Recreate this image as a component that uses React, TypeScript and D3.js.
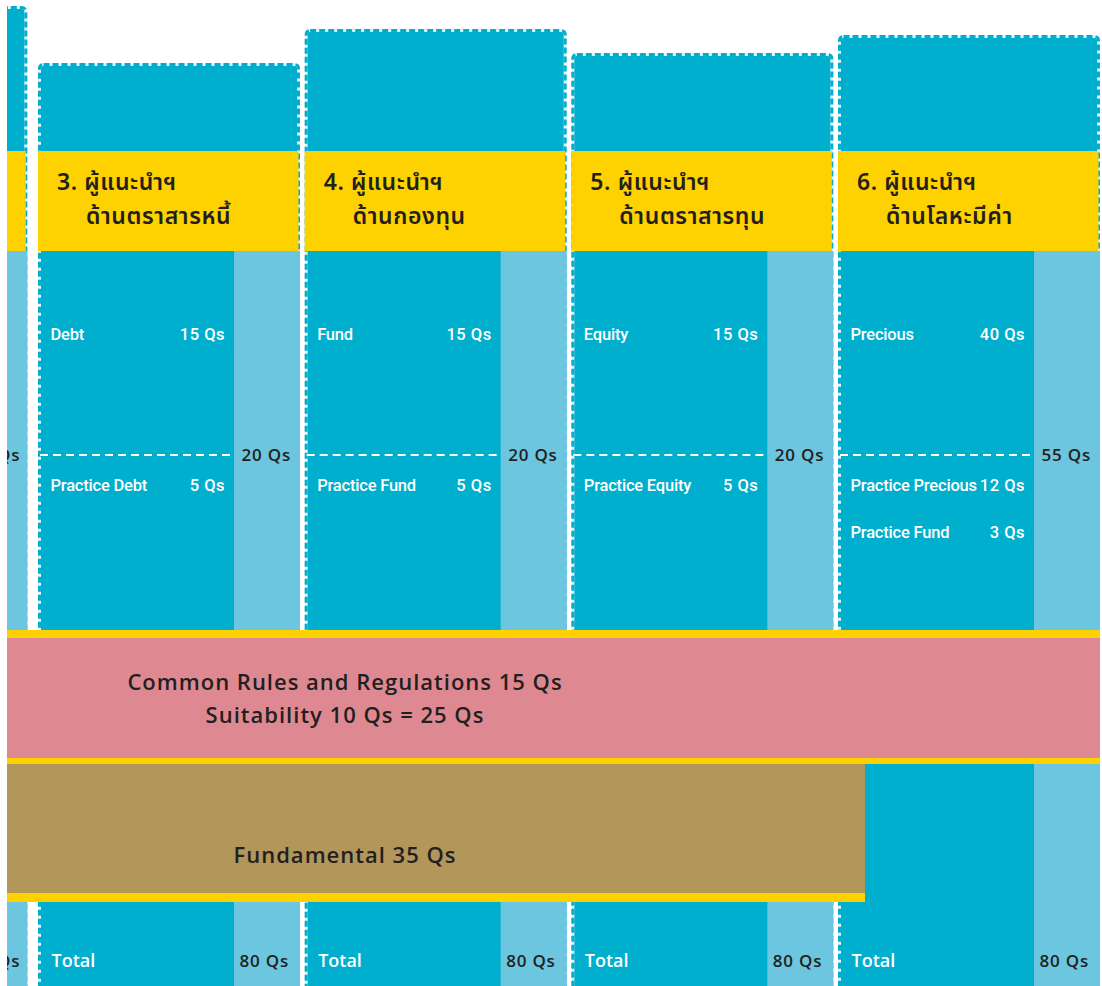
import * as d3 from "d3";

// columns of the exam structure (col "2" is only a sliver at the left edge)
const columns = ["2", "3", "4", "5", "6"];
const capHeights = [145, 88, 122, 98, 116];
const headerLine1 = ["", "3. ผู้แนะนำฯ", "4. ผู้แนะนำฯ", "5. ผู้แนะนำฯ", "6. ผู้แนะนำฯ"];
const headerLine2 = ["", "ด้านตราสารหนี้", "ด้านกองทุน", "ด้านตราสารทุน", "ด้านโลหะมีค่า"];
const mainTopic = ["", "Debt", "Fund", "Equity", "Precious"];
const mainQs = ["", "15 Qs", "15 Qs", "15 Qs", "40 Qs"];
const practiceTopic = [[], ["Practice Debt"], ["Practice Fund"], ["Practice Equity"], ["Practice Precious", "Practice Fund"]];
const practiceQs = [[], ["5 Qs"], ["5 Qs"], ["5 Qs"], ["12 Qs", "3 Qs"]];
const subtotalQs = ["20 Qs", "20 Qs", "20 Qs", "20 Qs", "55 Qs"];
const totalQs = ["80 Qs", "80 Qs", "80 Qs", "80 Qs", "80 Qs"];

const commonLines = ["Common Rules and Regulations 15 Qs", "Suitability 10 Qs = 25 Qs"];
const fundamentalLabel = "Fundamental 35 Qs";

const W = 1102;
const H = 986;
const BLUE = "#00aecd";
const LIGHT = "#6cc6df";
const YELLOW = "#fed100";
const PINK = "#de8992";
const BROWN = "#b39659";
const INK = "#231f20";

const HEAD_TOP = 151;
const HEAD_BOTTOM = 251;
const COL_W = 262;
const STRIP_W = 66;

const thai = "'Noto Sans Thai', 'Noto Sans', 'Open Sans', sans-serif";
const sans = "'Open Sans', 'Noto Sans', sans-serif";
const narrow = "Roboto, 'Noto Sans', sans-serif";

export default function App() {
  const x = d3.scaleLinear().domain([3, 6]).range([38, 838]);
  const capY = d3.scaleLinear().domain([0, 145]).range([HEAD_TOP, 6]);

  const cols = columns.map((c, i) => {
    const left = x(+c);
    const w = i === 0 ? 256 : COL_W;
    return { i, left, w };
  });

  return (
    <svg
      width={W}
      height={H}
      style={{ position: "absolute", left: 0, top: 0, background: "#fff" }}
    >
      <defs>
        <clipPath id="frame">
          <rect x={7} y={0} width={1093} height={H} />
        </clipPath>
      </defs>
      <g clipPath="url(#frame)">
        {cols.map(({ i, left, w }) => {
          const top = capY(capHeights[i]);
          const nudge = i === 0 ? 2 : 0; // sliver column shows a bit more of its labels
          return (
            <g key={"col" + i}>
              <rect x={left + 1.5} y={top + 1.5} width={w - 3} height={H} rx={4} fill={BLUE} stroke="#e6f6fa" strokeWidth={3} />
              <rect x={left + 1.5} y={top + 1.5} width={w - 3} height={H} rx={4} fill="none" stroke={BLUE} strokeWidth={3} strokeDasharray="6 3" />
              <rect x={left} y={HEAD_TOP} width={w - 1.5} height={HEAD_BOTTOM - HEAD_TOP} fill={YELLOW} />
              <rect x={left + w - STRIP_W} y={HEAD_BOTTOM} width={STRIP_W} height={H - HEAD_BOTTOM} fill={LIGHT} />
              <line x1={left + 2} x2={left + w - STRIP_W} y1={455} y2={455} stroke="#fff" strokeWidth={2} strokeDasharray="8 5" />
              <text fontFamily={thai} fontSize={23} fontWeight={600} letterSpacing={0.6} fill={INK}>
                <tspan x={left + 19} y={190}>{headerLine1[i]}</tspan>
                <tspan x={left + 48} y={224}>{headerLine2[i]}</tspan>
              </text>
              <text x={left + 12.5} y={340} fontFamily={narrow} fontSize={16.5} fontWeight={500} letterSpacing={-0.2} fill="#fff">{mainTopic[i]}</text>
              <text x={left + 187} y={340} textAnchor="end" fontFamily={narrow} fontSize={16.5} fontWeight={500} letterSpacing={0.5} fill="#fff">{mainQs[i]}</text>
              {practiceTopic[i].map((p, k) => (
                <g key={"p" + k}>
                  <text x={left + 12.5} y={491 + k * 47} fontFamily={narrow} fontSize={16.5} fontWeight={500} letterSpacing={-0.2} fill="#fff">{p}</text>
                  <text x={left + 187} y={491 + k * 47} textAnchor="end" fontFamily={narrow} fontSize={16.5} fontWeight={500} letterSpacing={0.5} fill="#fff">{practiceQs[i][k]}</text>
                </g>
              ))}
              <text x={left + w - 9 + nudge} y={461} textAnchor="end" fontFamily={sans} fontSize={17} fontWeight={600} letterSpacing={0.8} fill={INK}>{subtotalQs[i]}</text>
              <text x={left + 13.5} y={967} fontFamily={sans} fontSize={18} fontWeight={600} fill="#fff">Total</text>
              <text x={left + w - 11 + nudge * 2} y={967} textAnchor="end" fontFamily={sans} fontSize={17} fontWeight={600} letterSpacing={0.8} fill={INK}>{totalQs[i]}</text>
            </g>
          );
        })}

        {/* shared bands across columns */}
        <rect x={7} y={630} width={1093} height={134} fill={YELLOW} />
        <rect x={7} y={638} width={1093} height={120} fill={PINK} />
        <text textAnchor="middle" fontFamily={sans} fontSize={22} fontWeight={600} letterSpacing={1} fill={INK}>
          {commonLines.map((t, k) => (
            <tspan key={k} x={345} y={690 + k * 33}>{t}</tspan>
          ))}
        </text>
        <rect x={7} y={764} width={858} height={138} fill={YELLOW} />
        <rect x={7} y={764} width={858} height={129} fill={BROWN} />
        <text x={345} y={863} textAnchor="middle" fontFamily={sans} fontSize={22} fontWeight={600} letterSpacing={1} fill={INK}>{fundamentalLabel}</text>
      </g>
    </svg>
  );
}
